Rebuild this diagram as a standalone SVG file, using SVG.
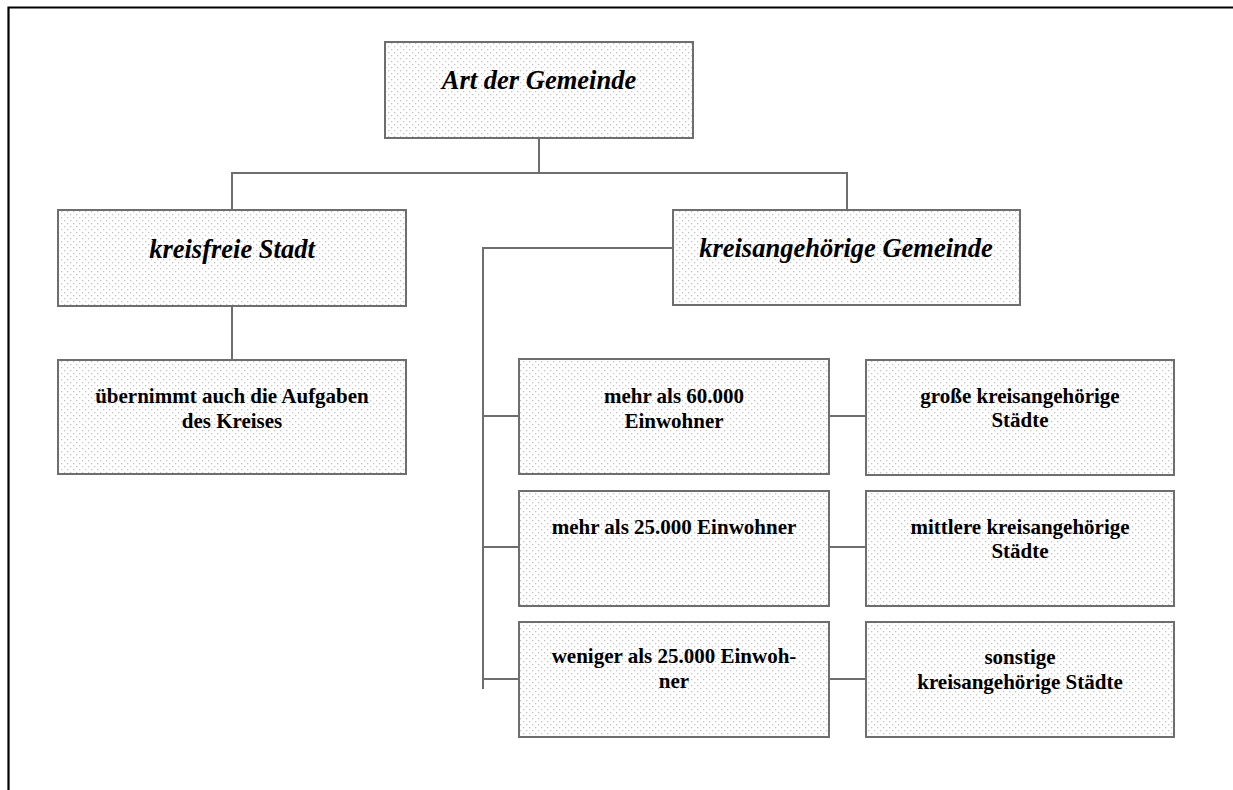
<svg xmlns="http://www.w3.org/2000/svg" width="1233" height="790" viewBox="0 0 1233 790">
  <defs>
    <!-- light dotted fill used by every box -->
    <pattern id="dots" width="6" height="6" patternUnits="userSpaceOnUse">
      <rect width="6" height="6" fill="#ffffff"/>
      <rect x="1" y="1" width="1.3" height="1.3" fill="#c4c4c4"/>
      <rect x="4" y="4" width="1.3" height="1.3" fill="#c4c4c4"/>
    </pattern>
    <style>
      .box { fill: url(#dots); stroke: #6e6e6e; stroke-width: 2; }
      .line { fill: none; stroke: #6e6e6e; stroke-width: 2; }
      .head { font-family: "Liberation Serif", "Times New Roman", serif; font-style: italic; font-weight: bold; font-size: 26.5px; fill: #000; text-anchor: middle; }
      .body { font-family: "Liberation Serif", "Times New Roman", serif; font-weight: bold; font-size: 21px; fill: #000; text-anchor: middle; }
    </style>
  </defs>

  <rect width="1233" height="790" fill="#ffffff"/>
  <!-- page frame -->
  <path d="M8.5 790 V7.5 H1233" fill="none" stroke="#000" stroke-width="2.2"/>

  <g id="connectors">
    <path class="line" d="M539 138 V173 M232 210 V173 H847 V210"/>
    <path class="line" d="M232 306 V360"/>
    <path class="line" d="M673 248 H483 V689"/>
    <path class="line" d="M483 416 H519 M483 547 H519 M483 679 H519"/>
    <path class="line" d="M829 416 H866 M829 547 H866 M829 679 H866"/>
  </g>

  <g id="art-der-gemeinde">
    <rect class="box" x="385" y="42" width="308" height="96"/>
    <text class="head" x="539" y="89">Art der Gemeinde</text>
  </g>

  <g id="kreisfreie-stadt">
    <rect class="box" x="58" y="210" width="348" height="96"/>
    <text class="head" x="232" y="258">kreisfreie Stadt</text>
  </g>

  <g id="kreisangehoerige-gemeinde">
    <rect class="box" x="673" y="210" width="347" height="95"/>
    <text class="head" x="846" y="257">kreisangehörige Gemeinde</text>
  </g>

  <g id="aufgaben-des-kreises">
    <rect class="box" x="58" y="360" width="348" height="114"/>
    <text class="body" x="232" y="403">übernimmt auch die Aufgaben</text>
    <text class="body" x="232" y="428">des Kreises</text>
  </g>

  <g id="mehr-60000">
    <rect class="box" x="519" y="359" width="310" height="115"/>
    <text class="body" x="674" y="403">mehr als 60.000</text>
    <text class="body" x="674" y="428">Einwohner</text>
  </g>

  <g id="mehr-25000">
    <rect class="box" x="519" y="491" width="310" height="115"/>
    <text class="body" x="674" y="534">mehr als 25.000 Einwohner</text>
  </g>

  <g id="weniger-25000">
    <rect class="box" x="519" y="622" width="310" height="115"/>
    <text class="body" x="674" y="663">weniger als 25.000 Einwoh-</text>
    <text class="body" x="674" y="688">ner</text>
  </g>

  <g id="grosse-staedte">
    <rect class="box" x="866" y="360" width="308" height="115"/>
    <text class="body" x="1020" y="403">große kreisangehörige</text>
    <text class="body" x="1020" y="427">Städte</text>
  </g>

  <g id="mittlere-staedte">
    <rect class="box" x="866" y="491" width="308" height="115"/>
    <text class="body" x="1020" y="534">mittlere kreisangehörige</text>
    <text class="body" x="1020" y="558">Städte</text>
  </g>

  <g id="sonstige-staedte">
    <rect class="box" x="866" y="622" width="308" height="115"/>
    <text class="body" x="1020" y="664">sonstige</text>
    <text class="body" x="1020" y="689">kreisangehörige Städte</text>
  </g>
</svg>
